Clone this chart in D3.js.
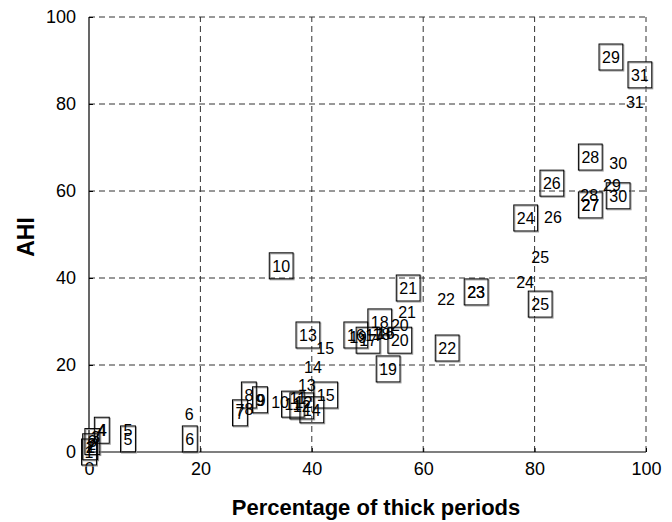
<!DOCTYPE html>
<html><head><meta charset="utf-8">
<script src="https://cdn.jsdelivr.net/npm/d3@7"></script>
<style>body{margin:0;background:#fff}svg{display:block}text{font-family:Arial,"Liberation Sans",sans-serif}</style>
</head><body><svg id="c" width="672" height="522"></svg>
<script>
// Boxed labels (patient number, % thick periods, AHI)
const boxedIds = [1,2,3,4,5,6,7,8,9,10,11,12,13,14,15,16,17,18,19,20,21,22,23,24,25,26,27,28,29,30,31];
const boxedX = [0,0.2,0.6,2.3,7,18.1,27.1,28.7,30.7,34.5,36.6,38.2,39.3,40,42.5,47.9,50.1,52.2,53.7,55.8,57.3,64.3,69.5,78.4,81,83.1,90,90,93.7,95,98.9];
const boxedY = [0,1.2,2.4,5,3,3,9,13.1,12,42.8,11,10.6,26.9,9.7,13.1,26.9,25.7,29.9,19.1,25.7,37.7,23.9,36.8,53.8,34,61.8,56.8,67.8,90.8,58.9,86.7];
// Plain labels
const plainIds = [1,2,3,4,5,6,7,8,9,10,11,12,13,14,15,16,17,18,19,20,21,22,23,24,25,26,27,28,29,30,31];
const plainX = [0.3,0.5,1.2,2.4,7,18,27.1,28.7,30.9,34.3,37.5,38.5,39.1,40.2,42.4,53.3,51.2,52.5,48.3,55.8,57.1,64.1,69.5,78.3,81,83.3,90,89.8,93.9,95,98];
const plainY = [1,1.8,3.3,5,5.1,8.7,9.5,9.8,12,11.5,12.3,11.5,15.4,19.5,23.9,27.3,26.8,27,26.4,29.2,32.2,35.2,36.8,39.1,44.8,54,56.8,59,61.4,66.4,80.5];
const xTicks = [0,20,40,60,80,100];
const yTicks = [0,20,40,60,80,100];
const xTitle = "Percentage of thick periods";
const yTitle = "AHI";

const svg = d3.select("#c");
const x = d3.scaleLinear().domain([0,100]).range([89,646]);
const y = d3.scaleLinear().domain([0,100]).range([452,17]);

// grid
const g = svg.append("g");
g.selectAll(".vg").data(xTicks.filter(d=>d>0)).join("line")
  .attr("x1",d=>x(d)).attr("x2",d=>x(d)).attr("y1",y(0)).attr("y2",y(100))
  .attr("stroke","#333").attr("stroke-width",1).attr("stroke-dasharray","6,4");
g.selectAll(".hg").data(yTicks.filter(d=>d>0)).join("line")
  .attr("y1",d=>y(d)).attr("y2",d=>y(d)).attr("x1",x(0)).attr("x2",x(100))
  .attr("stroke","#333").attr("stroke-width",1).attr("stroke-dasharray","6,4");

// axes
const xAxis = d3.axisBottom(x).tickValues(xTicks).tickSize(-4).tickPadding(10).tickFormat(d3.format("d"));
const yAxis = d3.axisLeft(y).tickValues(yTicks).tickSize(-4).tickPadding(13).tickFormat(d3.format("d"));
const gx = svg.append("g").attr("transform",`translate(0,${y(0)})`).call(xAxis);
const gy = svg.append("g").attr("transform",`translate(${x(0)},0)`).call(yAxis);
[gx,gy].forEach(a=>{
  a.select(".domain").attr("stroke","#000").attr("stroke-width",1.2);
  a.selectAll(".tick line").attr("stroke","#000");
  a.selectAll(".tick text").attr("font-size",18).attr("fill","#000").attr("font-family","Arial, 'Liberation Sans', sans-serif");
});
gx.select(".domain").attr("d",`M${x(0)},0H${x(100)}`);
gy.select(".domain").attr("d",`M0,${y(0)}V${y(100)}`);

svg.append("text").attr("x",376).attr("y",515).attr("text-anchor","middle")
  .attr("font-size",22).attr("font-weight","bold").text(xTitle);
svg.append("text").attr("transform",`translate(34,237) rotate(-90)`).attr("text-anchor","middle")
  .attr("font-size",23).attr("font-weight","bold").text(yTitle);

// boxed labels
const boxed = boxedIds.map((id,i)=>({id, x:boxedX[i], y:boxedY[i]}));
const plain = plainIds.map((id,i)=>({id, x:plainX[i], y:plainY[i]}));
const fs = 16;
const bg = svg.append("g");
boxed.forEach(d=>{
  const t = bg.append("text").attr("x",x(d.x)).attr("y",y(d.y)).attr("dy","0.36em")
    .attr("text-anchor","middle").attr("font-size",fs).attr("fill","#000").text(d.id);
  const w = t.node().getComputedTextLength() + 6;
  const h = 26;
  bg.insert("rect","text").attr("x",x(d.x)-w/2+1).attr("y",y(d.y)-h/2+1).attr("width",w).attr("height",h)
    .attr("fill","none").attr("stroke","#999").attr("stroke-width",1);
  bg.append("rect").attr("x",x(d.x)-w/2).attr("y",y(d.y)-h/2).attr("width",w).attr("height",h)
    .attr("fill","none").attr("stroke","#000").attr("stroke-width",1);
});
svg.append("g").selectAll("text").data(plain).join("text")
  .attr("x",d=>x(d.x)).attr("y",d=>y(d.y)).attr("dy","0.36em").attr("text-anchor","middle")
  .attr("font-size",fs).attr("fill","#000").text(d=>d.id);
</script></body></html>
